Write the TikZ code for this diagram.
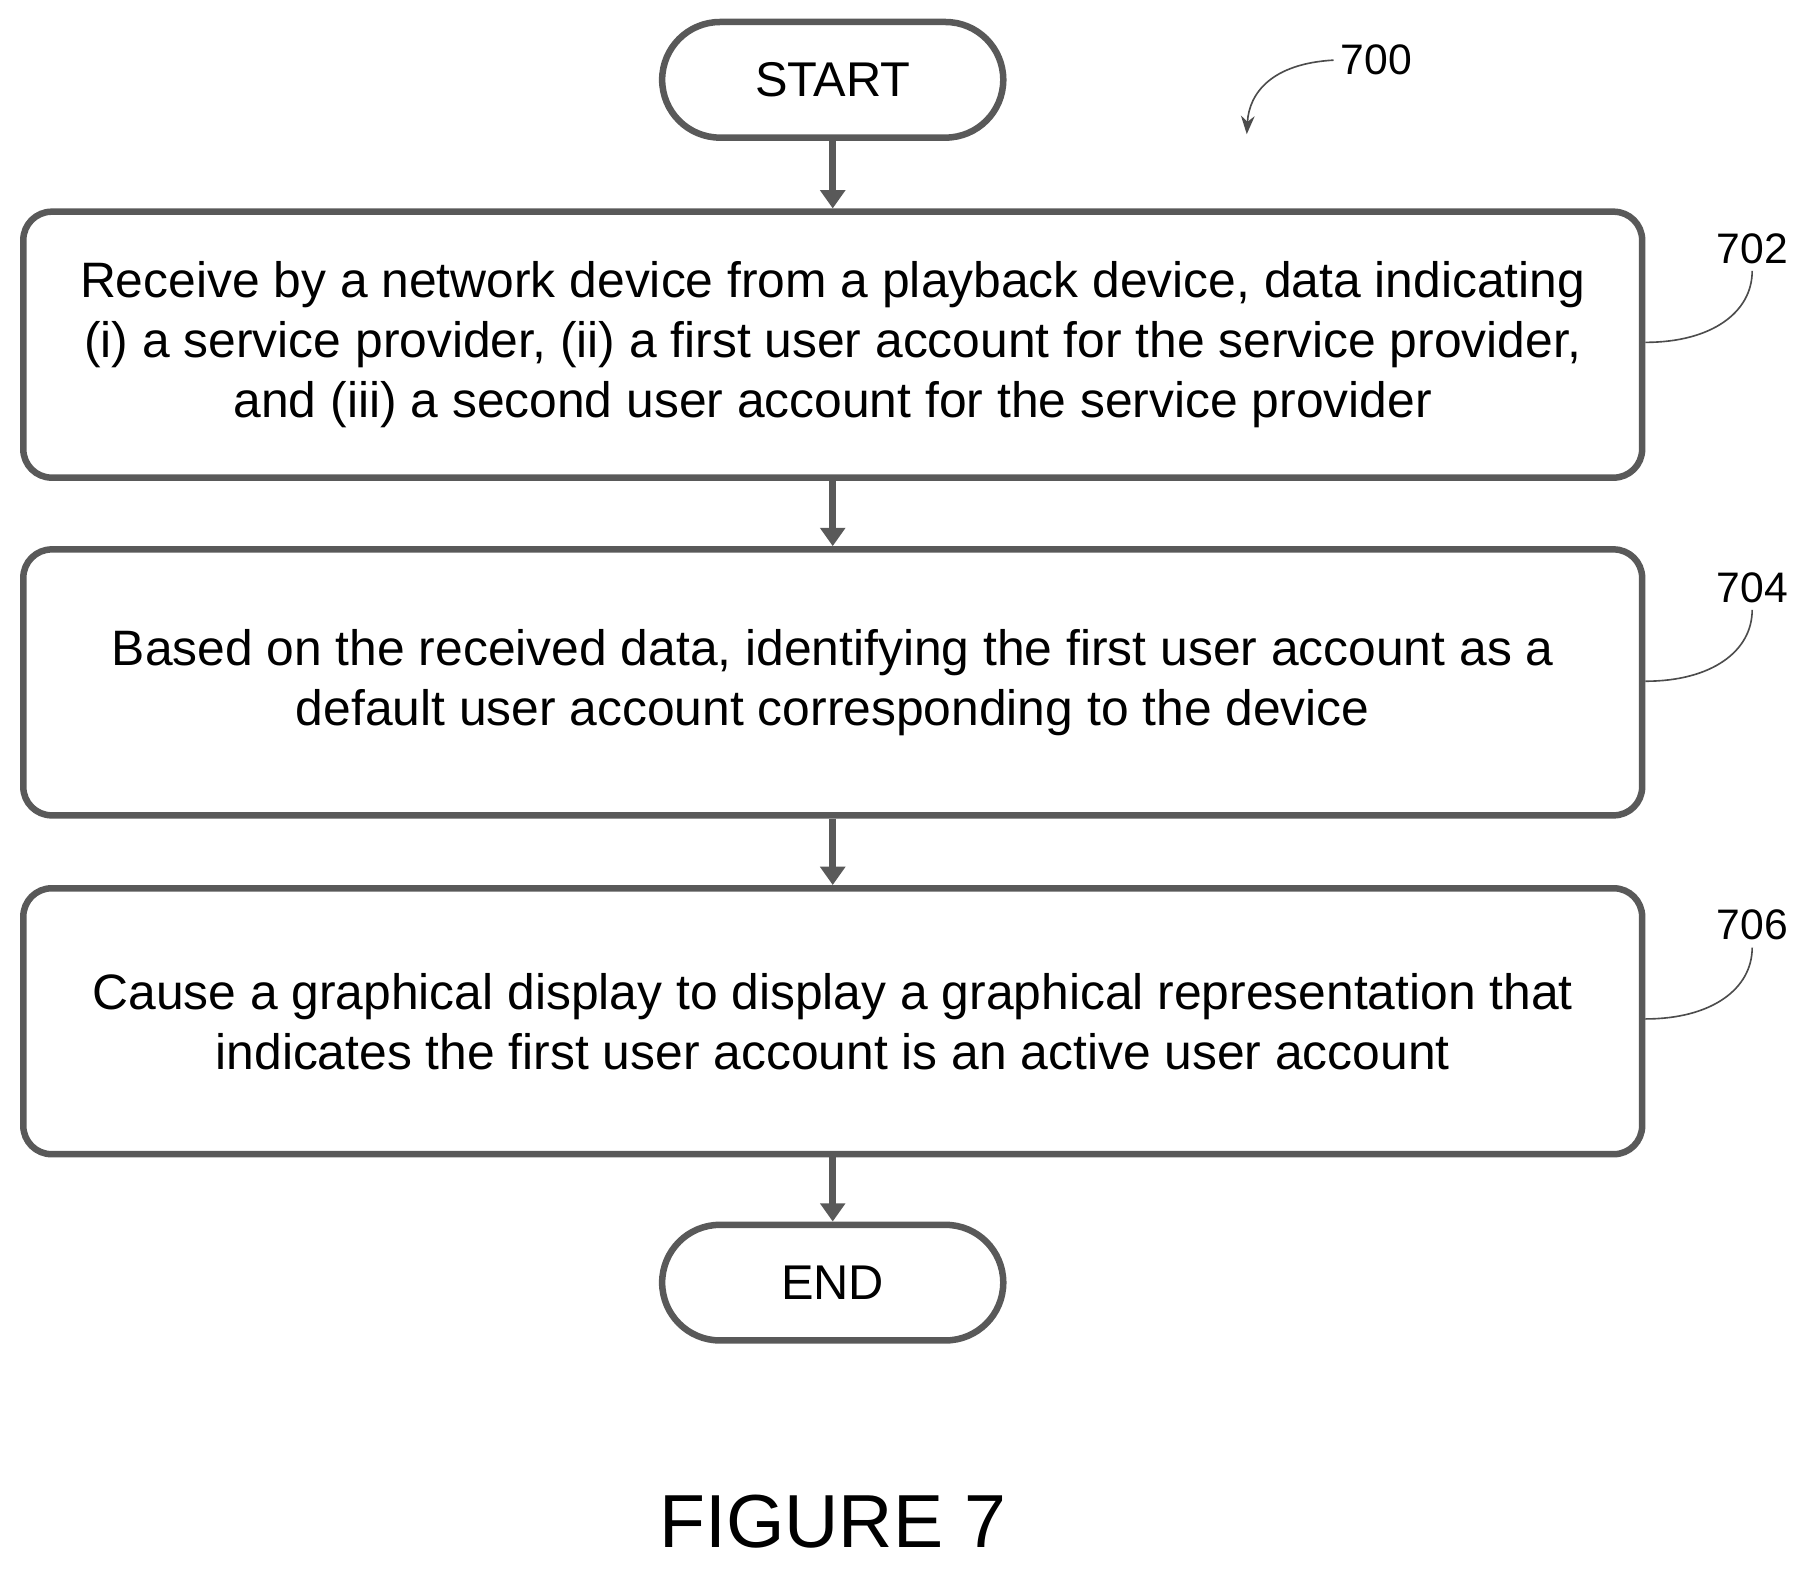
\documentclass[tikz,border=0pt]{standalone}
\usepackage{fontspec}
\setmainfont{Liberation Sans}
\usetikzlibrary{arrows.meta}
\begin{document}
\begin{tikzpicture}[x=0.02cm,y=-0.02cm,
  ln/.style={draw=black!65,line width=3.2pt},
  box/.style={ln,rounded corners=14pt,minimum width=28cm,minimum height=4.6cm,align=center,font=\fontsize{24.5}{29.5}\selectfont},
  term/.style={ln,rounded corners=1cm,minimum width=5.9cm,minimum height=2cm,font=\fontsize{24}{27}\selectfont},
  arr/.style={ln,-{Triangle[width=12pt,length=9pt]}},
  lead/.style={draw=black!70,line width=0.8pt},
  num/.style={font=\fontsize{21}{24}\selectfont}]
\useasboundingbox (0,0) rectangle (1565,1357);
\node[term] (start) at (720,69) {START};
\node[box] (b1) at (720,298) {Receive by a network device from a playback device, data indicating\\(i) a service provider, (ii) a first user account for the service provider,\\and (iii) a second user account for the service provider};
\node[box] (b2) at (720,590) {Based on the received data, identifying the first user account as a\\default user account corresponding to the device};
\node[box] (b3) at (720,883) {Cause a graphical display to display a graphical representation that\\indicates the first user account is an active user account};
\node[term] (end) at (720,1109) {END};
\draw[arr] (start) -- (b1);
\draw[arr] (b1) -- (b2);
\draw[arr] (b2) -- (b3);
\draw[arr] (b3) -- (end);
\node[num] (n700) at (1190,52) {700};
\coordinate (c700) at (1078,116);
\draw[lead,-{Stealth[length=9pt]}] (n700.west) .. controls (1100,55) and (1080,80) .. (c700);
\node[num] (n702) at (1515,215) {702};
\draw[lead] (b1.east |- 0,296) .. controls (1480,296) and (1515,270) .. (n702.south);
\node[num] (n704) at (1515,508) {704};
\draw[lead] (b2.east |- 0,589) .. controls (1480,589) and (1515,563) .. (n704.south);
\node[num] (n706) at (1515,800) {706};
\draw[lead] (b3.east |- 0,881) .. controls (1480,881) and (1515,855) .. (n706.south);
\node[font=\fontsize{37}{42}\selectfont] (fig) at (720,1316) {FIGURE 7};
\end{tikzpicture}
\end{document}
